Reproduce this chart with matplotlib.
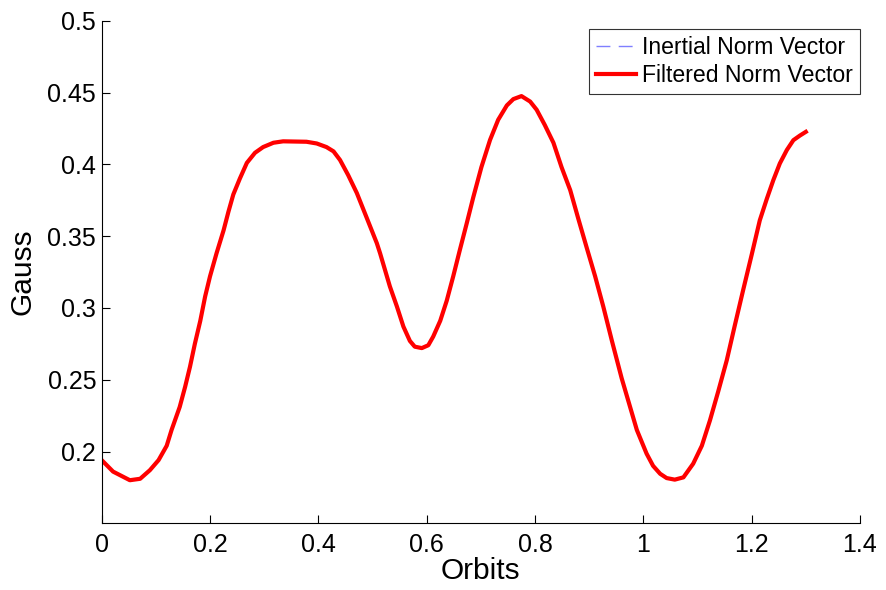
import matplotlib.pyplot as plt

# ── Данные ──────────────────────────────────────────────────────────────
orbits = [0.000, 0.021, 0.052, 0.071, 0.089, 0.105, 0.120, 0.129, 0.144, 0.154,
          0.163, 0.172, 0.182, 0.191, 0.200, 0.212, 0.225, 0.234, 0.243, 0.255,
          0.268, 0.283, 0.298, 0.317, 0.335, 0.378, 0.397, 0.415, 0.428, 0.440,
          0.455, 0.471, 0.489, 0.508, 0.514, 0.532, 0.545, 0.557, 0.569, 0.578,
          0.591, 0.603, 0.612, 0.625, 0.637, 0.649, 0.661, 0.674, 0.686, 0.701,
          0.717, 0.732, 0.748, 0.760, 0.775, 0.791, 0.803, 0.818, 0.834, 0.849,
          0.865, 0.880, 0.895, 0.911, 0.926, 0.942, 0.960, 0.988, 1.006, 1.018,
          1.031, 1.043, 1.058, 1.074, 1.092, 1.108, 1.123, 1.138, 1.154, 1.169,
          1.184, 1.200, 1.215, 1.228, 1.240, 1.252, 1.265, 1.277, 1.289, 1.300]
filtered_norm = [0.194, 0.186, 0.180, 0.181, 0.187, 0.194, 0.204, 0.215, 0.231, 0.245,
                 0.259, 0.275, 0.291, 0.308, 0.322, 0.338, 0.354, 0.367, 0.379, 0.390,
                 0.401, 0.408, 0.412, 0.415, 0.416, 0.4157, 0.4145, 0.412, 0.409, 0.403,
                 0.3925, 0.380, 0.363, 0.345, 0.338, 0.315, 0.301, 0.287, 0.277, 0.273,
                 0.272, 0.274, 0.280, 0.291, 0.305, 0.322, 0.340, 0.359, 0.377, 0.398,
                 0.417, 0.431, 0.441, 0.4454, 0.4475, 0.4437, 0.438, 0.4274, 0.415, 0.398,
                 0.382, 0.362, 0.3425, 0.322, 0.301, 0.277, 0.251, 0.215, 0.1985, 0.190,
                 0.1845, 0.1815, 0.1804, 0.182, 0.1915, 0.204, 0.2217, 0.2415, 0.2635, 0.288,
                 0.312, 0.337, 0.361, 0.376, 0.389, 0.4006, 0.410, 0.4168, 0.420, 0.4226]
# инерциальный вектор полностью закрыт отфильтрованным
inertial_norm = list(filtered_norm)

x_ticks = [0, 0.2, 0.4, 0.6, 0.8, 1.0, 1.2, 1.4]
x_labels = ["0", "0.2", "0.4", "0.6", "0.8", "1", "1.2", "1.4"]
y_ticks = [0.2, 0.25, 0.3, 0.35, 0.4, 0.45, 0.5]
y_labels = ["0.2", "0.25", "0.3", "0.35", "0.4", "0.45", "0.5"]

plt.rcParams["font.family"] = ["Liberation Sans", "DejaVu Sans"]


def main():
    fig = plt.figure(figsize=(8.87, 5.90), dpi=100)
    ax = fig.add_axes([101.7 / 887, 66.7 / 590, (860 - 101.7) / 887, (523.3 - 20.7) / 590])

    ax.plot(orbits, inertial_norm, color="#7f7fff", lw=1.0, dashes=(10, 6),
            label="Inertial Norm Vector")
    ax.plot(orbits, filtered_norm, "-", color="#ff0000", lw=3.0,
            solid_joinstyle="round", label="Filtered Norm Vector")

    ax.set_xlim(0, 1.4)
    ax.set_ylim(0.15, 0.5)
    ax.set_xticks(x_ticks, x_labels)
    ax.set_yticks(y_ticks, y_labels)
    ax.tick_params(direction="in", length=5.5, width=0.8, labelsize=18, colors="black")
    ax.tick_params(axis="x", pad=7)
    ax.tick_params(axis="y", pad=4)
    for side in ("top", "right"):
        ax.spines[side].set_visible(False)
    for side in ("left", "bottom"):
        ax.spines[side].set_linewidth(0.8)

    ax.set_xlabel("Orbits", fontsize=21.5, labelpad=0)
    ax.set_ylabel("Gauss", fontsize=21.5, labelpad=8)

    leg = ax.legend(loc="upper right", bbox_to_anchor=(860 / 887, 1 - 29.3 / 590),
                    bbox_transform=fig.transFigure, borderaxespad=0,
                    fontsize=16.6, frameon=True, fancybox=False,
                    handlelength=1.75, handletextpad=0.25, borderpad=0.3,
                    labelspacing=0.2)
    leg.get_frame().set_edgecolor("black")
    leg.get_frame().set_linewidth(0.8)

    fig.savefig("out.png", dpi=100)
    plt.close(fig)


if __name__ == "__main__":
    main()
